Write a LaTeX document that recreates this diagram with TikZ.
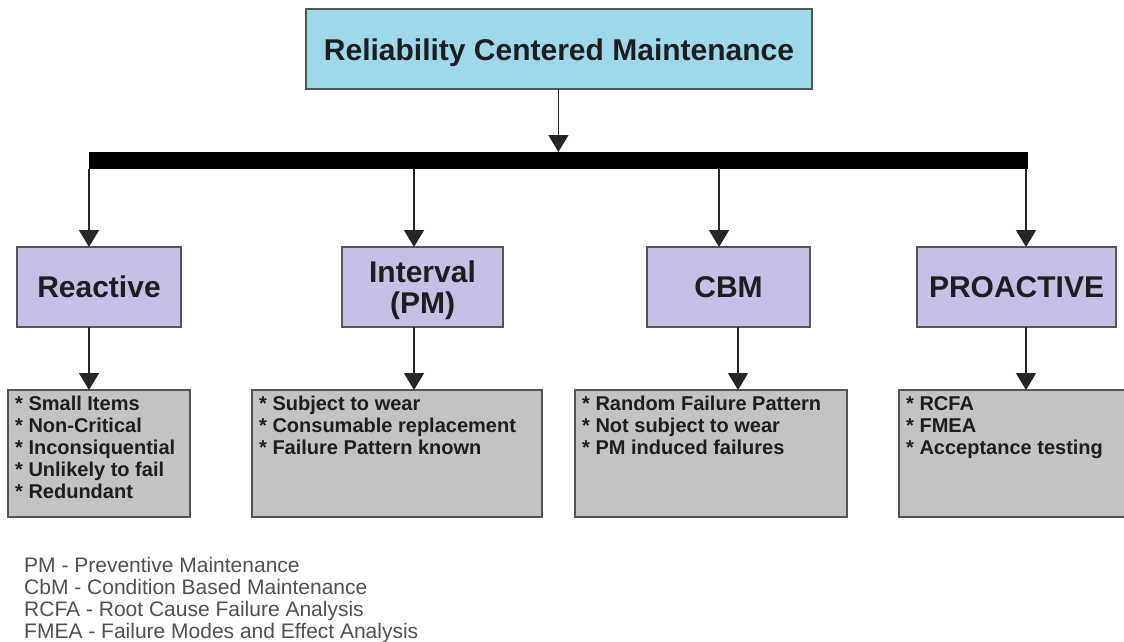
\documentclass[tikz,border=0pt]{standalone}
\usepackage{fontspec}
\setmainfont{Liberation Sans}
\usetikzlibrary{arrows.meta}

\definecolor{topfill}{RGB}{157,217,233}
\definecolor{catfill}{RGB}{200,191,231}
\definecolor{listfill}{RGB}{195,195,195}
\definecolor{edge}{RGB}{85,85,85}
\definecolor{ink}{RGB}{30,30,30}
\definecolor{legendink}{RGB}{80,80,80}

\begin{document}
\begin{tikzpicture}[x=1pt,y=-1pt,
  frame/.style={draw=edge, line width=1.5pt, inner sep=0pt, outer sep=0pt, anchor=north west},
  topbox/.style={frame, fill=topfill, text=ink, text depth=0pt,
    font=\bfseries\fontsize{30}{31}\selectfont},
  catbox/.style={frame, fill=catfill, text=ink, text depth=0pt, align=center,
    minimum height=80pt, font=\bfseries\fontsize{30}{31}\selectfont},
  listbox/.style={frame, fill=listfill, minimum height=127pt},
  listtext/.style={inner sep=0pt, anchor=north west, align=left, text=ink,
    font=\bfseries\fontsize{20}{22}\selectfont},
  busbar/.style={draw=black, fill=black, line width=0.8pt, inner sep=0pt, anchor=north west},
  conn/.style={draw=black!85, line width=1.6pt, -{Triangle[width=20pt,length=17pt]}},
  legendtext/.style={inner sep=0pt, anchor=north west, align=left, text=legendink,
    font=\fontsize{21}{22}\selectfont}
]
\useasboundingbox (0,0) rectangle (1124,642);
\clip (0,0) rectangle (1124,642);

% root
\node[topbox, minimum width=506pt, minimum height=80pt] (rcm) at (306,9)
  {\raisebox{-2pt}{Reliability Centered Maintenance}};

% distribution bar
\node[busbar, minimum width=938pt, minimum height=16pt] (bus) at (89,152) {};

% category boxes
\node[catbox, minimum width=164pt] (reactive)  at (17,247)  {Reactive};
\node[catbox, minimum width=161pt] (interval)  at (342,247) {Interval\\(PM)};
\node[catbox, minimum width=163pt] (cbm)       at (647,247) {CBM};
\node[catbox, minimum width=199pt] (proactive) at (917,247) {PROACTIVE};

% detail boxes
\node[listbox, minimum width=182pt] (lreactive)  at (8,390)   {};
\node[listbox, minimum width=290pt] (linterval)  at (252,390) {};
\node[listbox, minimum width=272pt] (lcbm)       at (575,390) {};
\node[listbox, minimum width=228pt] (lproactive) at (899,390) {};

\node[listtext] (treactive) at (15,396)
  {* Small Items\\* Non-Critical\\* Inconsiquential\\* Unlikely to fail\\* Redundant};
\node[listtext] (tinterval) at (259,396)
  {* Subject to wear\\* Consumable replacement\\* Failure Pattern known};
\node[listtext] (tcbm) at (582,396)
  {* Random Failure Pattern\\* Not subject to wear\\* PM induced failures};
\node[listtext] (tproactive) at (906,396)
  {* RCFA\\* FMEA\\* Acceptance testing};

% legend
\node[legendtext] (legend) at (24,557.5)
  {PM - Preventive Maintenance\\CbM - Condition Based Maintenance\\RCFA - Root Cause Failure Analysis\\FMEA - Failure Modes and Effect Analysis};

% connector columns
\coordinate (xa) at (89,0);
\coordinate (xb) at (414,0);
\coordinate (xc) at (719,0);
\coordinate (xcl) at (738,0);
\coordinate (xd) at (1026,0);

% connectors
\draw[conn] (rcm.south -| bus.north) -- (bus.north);
\draw[conn] (bus.south -| xa) -- (reactive.north -| xa);
\draw[conn] (bus.south -| xb) -- (interval.north -| xb);
\draw[conn] (bus.south -| xc) -- (cbm.north -| xc);
\draw[conn] (bus.south -| xd) -- (proactive.north -| xd);

\draw[conn] (reactive.south -| xa)  -- (lreactive.north -| xa);
\draw[conn] (interval.south -| xb)  -- (linterval.north -| xb);
\draw[conn] (cbm.south -| xcl)      -- (lcbm.north -| xcl);
\draw[conn] (proactive.south -| xd) -- (lproactive.north -| xd);
\end{tikzpicture}
\end{document}
